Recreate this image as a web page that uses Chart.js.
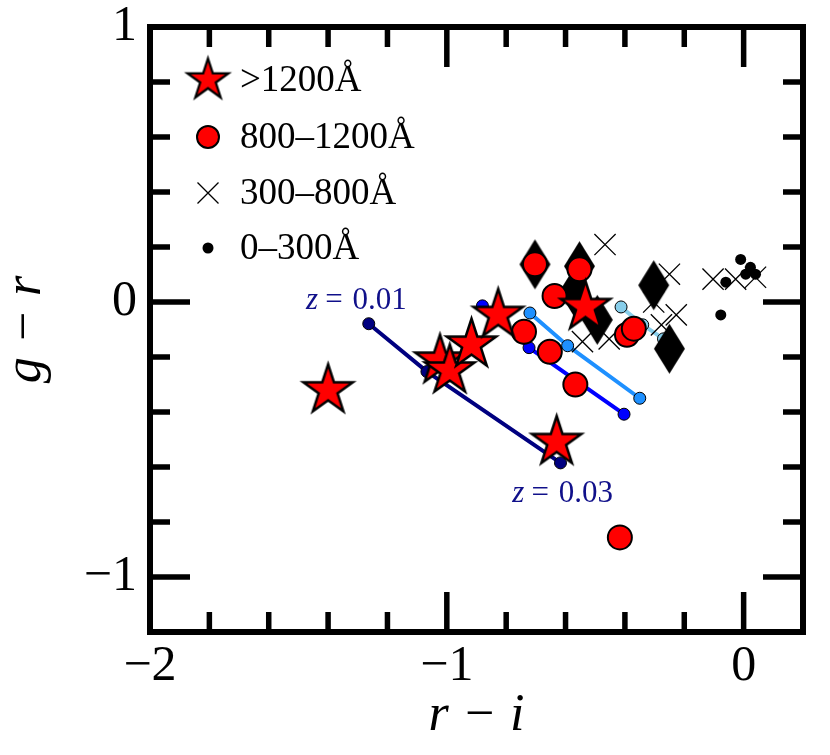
<!DOCTYPE html>
<html>
<head>
<meta charset="utf-8">
<script src="https://cdn.jsdelivr.net/npm/chart.js@4.4.1/dist/chart.umd.min.js"></script>
<style>
html,body{margin:0;padding:0;background:#ffffff;}
#wrap{width:830px;height:755px;position:relative;}
</style>
</head>
<body>
<div id="wrap"><canvas id="c" width="830" height="755"></canvas></div>
<script>
// ---------------- data ----------------
const legendLabels = ['>1200Å', '800–1200Å', '300–800Å', '0–300Å'];

// >1200 Å (stars)
const starX = [-1.40, -1.023, -0.99, -0.917, -0.827, -0.533, -0.63];
const starY = [-0.321, -0.213, -0.249, -0.155, -0.047, -0.018, -0.509];

// 800–1200 Å (red circles)
const circX = [-0.703, -0.553, -0.637, -0.74, -0.653, -0.567, -0.393, -0.37, -0.417];
const circY = [0.137, 0.119, 0.022, -0.108, -0.181, -0.300, -0.119, -0.097, -0.856];

// 300–800 Å (crosses)
const crossX = [-0.467, -0.25, -0.227, -0.543, -0.453, -0.303, -0.277, -0.103, -0.027, 0.04];
const crossY = [0.209, 0.101, -0.047, -0.144, -0.134, 0.0, -0.083, 0.083, 0.083, 0.09];

// 0–300 Å (small dots)
const dotX = [-0.01, 0.023, 0.007, 0.04, -0.06, -0.077];
const dotY = [0.155, 0.126, 0.101, 0.101, 0.072, -0.047];

// black diamonds (not in legend)
const diamX = [-0.703, -0.553, -0.57, -0.493, -0.303, -0.25];
const diamY = [0.137, 0.130, 0.036, -0.065, 0.061, -0.17];

// redshift tracks z = 0.01 -> 0.03
const trackNavyX = [-1.263, -1.067, -0.617];
const trackNavyY = [-0.079, -0.253, -0.585];
const trackBlueX = [-0.88, -0.723, -0.403];
const trackBlueY = [-0.014, -0.166, -0.408];
const trackDodgerX = [-0.72, -0.593, -0.35];
const trackDodgerY = [-0.04, -0.159, -0.35];
const trackSkyX = [-0.413, -0.34, -0.27];
const trackSkyY = [-0.018, -0.083, -0.134];

// z annotations (data coordinates of text centre / baseline)
const zLabelText = ['0.01', '0.03'];
const zLabelX = [-1.305, -0.61];
const zLabelY = [-0.025, -0.727];

// axes
const xMajorTicks = [-2, -1, 0];
const yMajorTicks = [-1, 0, 1];
const xRange = [-2, 0.2];
const yRange = [-1.2, 1];

// ---------------- helpers ----------------
const pts = (xs, ys) => xs.map((x, i) => ({x: x, y: ys[i]}));
const SERIF = "'Liberation Serif', 'DejaVu Serif', serif";
const fmt = v => (v < 0 ? '\u2212' : '') + Math.abs(Math.round(v));
const isMajor = (v, list) => list.some(m => Math.abs(m - v) < 1e-6);

function makeStar(R, lw) {
  const s = Math.ceil(2 * R + 5 * lw + 4);
  const c = document.createElement('canvas');
  c.width = s; c.height = s;
  const g = c.getContext('2d');
  const cx = s / 2, cy = s / 2;
  g.beginPath();
  for (let i = 0; i < 10; i++) {
    const r = (i % 2) ? R * 0.381966 : R;
    const a = -Math.PI / 2 + i * Math.PI / 5;
    g.lineTo(cx + r * Math.cos(a), cy + r * Math.sin(a));
  }
  g.closePath();
  g.fillStyle = '#ff0000';
  g.fill();
  g.lineWidth = lw;
  g.lineJoin = 'miter';
  g.strokeStyle = '#000000';
  g.stroke();
  return c;
}
function makeDiamond(w, h) {
  const c = document.createElement('canvas');
  c.width = w + 2; c.height = h + 2;
  const g = c.getContext('2d');
  const cx = c.width / 2, cy = c.height / 2;
  g.beginPath();
  g.moveTo(cx, cy - h / 2);
  g.lineTo(cx + w / 2, cy);
  g.lineTo(cx, cy + h / 2);
  g.lineTo(cx - w / 2, cy);
  g.closePath();
  g.fillStyle = '#000000';
  g.fill();
  return c;
}
const starImg = makeStar(26, 2.5);
const starLegendImg = makeStar(21.5, 2.3);
const diamImg = makeDiamond(31, 50);

function track(xs, ys, color, order) {
  return {
    data: pts(xs, ys), showLine: true, borderColor: color, borderWidth: 4,
    pointRadius: 6, pointBackgroundColor: color, pointBorderColor: '#000000',
    pointBorderWidth: 1, order: order
  };
}

// ---------------- plugins ----------------
const framePlugin = {
  id: 'frame',
  afterDraw(chart) {
    const {ctx, chartArea: a, scales} = chart;
    ctx.save();
    ctx.strokeStyle = '#000';
    ctx.lineCap = 'butt';
    ctx.lineWidth = 5.5;
    scales.x.ticks.forEach(t => {
      const px = scales.x.getPixelForValue(t.value);
      const len = isMajor(t.value, xMajorTicks) ? 40 : 20;
      ctx.beginPath();
      ctx.moveTo(px, a.bottom); ctx.lineTo(px, a.bottom - len);
      ctx.moveTo(px, a.top); ctx.lineTo(px, a.top + len);
      ctx.stroke();
    });
    scales.y.ticks.forEach(t => {
      const py = scales.y.getPixelForValue(t.value);
      const len = isMajor(t.value, yMajorTicks) ? 40 : 20;
      ctx.beginPath();
      ctx.moveTo(a.left, py); ctx.lineTo(a.left + len, py);
      ctx.moveTo(a.right, py); ctx.lineTo(a.right - len, py);
      ctx.stroke();
    });
    ctx.lineWidth = 6;
    ctx.lineJoin = 'miter';
    ctx.strokeRect(a.left, a.top, a.right - a.left, a.bottom - a.top);
    ctx.restore();
  }
};

const zLabelPlugin = {
  id: 'zlabels',
  afterDatasetsDraw(chart) {
    const {ctx, scales} = chart;
    ctx.save();
    ctx.fillStyle = '#10108a';
    ctx.textBaseline = 'alphabetic';
    zLabelText.forEach((txt, i) => {
      const cx = scales.x.getPixelForValue(zLabelX[i]);
      const by = scales.y.getPixelForValue(zLabelY[i]);
      ctx.font = 'italic 31px ' + SERIF;
      const wz = ctx.measureText('z').width;
      ctx.font = '31px ' + SERIF;
      const rest = '\u2009= ' + txt;
      const wr = ctx.measureText(rest).width + 3;
      const x0 = cx - (wz + wr) / 2;
      ctx.font = 'italic 31px ' + SERIF;
      ctx.fillText('z', x0, by);
      ctx.font = '31px ' + SERIF;
      ctx.fillText('\u2009=', x0 + wz + 1, by);
      const weq = ctx.measureText('\u2009= ').width;
      ctx.fillText(txt, x0 + wz + weq + 3, by);
    });
    ctx.restore();
  }
};

const legendPlugin = {
  id: 'customLegend',
  afterDraw(chart) {
    const {ctx, chartArea: a} = chart;
    const mx = a.left + 58, tx = a.left + 90;
    const rows = [a.top + 53, a.top + 110, a.top + 166, a.top + 221];
    ctx.save();
    // star
    ctx.drawImage(starLegendImg, mx - starLegendImg.width / 2, rows[0] - starLegendImg.height / 2);
    // circle
    ctx.beginPath(); ctx.arc(mx, rows[1], 11, 0, Math.PI * 2);
    ctx.fillStyle = '#ff0000'; ctx.fill();
    ctx.lineWidth = 2; ctx.strokeStyle = '#000'; ctx.stroke();
    // cross
    ctx.beginPath();
    ctx.moveTo(mx - 10.5, rows[2] - 10.5); ctx.lineTo(mx + 10.5, rows[2] + 10.5);
    ctx.moveTo(mx - 10.5, rows[2] + 10.5); ctx.lineTo(mx + 10.5, rows[2] - 10.5);
    ctx.lineWidth = 1.3; ctx.stroke();
    // dot
    ctx.beginPath(); ctx.arc(mx, rows[3], 5.5, 0, Math.PI * 2);
    ctx.fillStyle = '#000'; ctx.fill();
    // text
    ctx.fillStyle = '#000';
    ctx.font = '37px ' + SERIF;
    ctx.textBaseline = 'middle';
    legendLabels.forEach((t, i) => ctx.fillText(t, tx, rows[i] + 1));
    ctx.restore();
  }
};

// ---------------- chart ----------------
new Chart(document.getElementById('c'), {
  type: 'scatter',
  data: {
    datasets: [
      {label: legendLabels[0], data: pts(starX, starY), pointStyle: starImg, pointRadius: 26, order: 0},
      {label: legendLabels[1], data: pts(circX, circY), pointStyle: 'circle', pointRadius: 12,
        pointBackgroundColor: '#ff0000', pointBorderColor: '#000000', pointBorderWidth: 2, order: 1},
      {label: legendLabels[3], data: pts(dotX, dotY), pointStyle: 'circle', pointRadius: 5.5,
        pointBackgroundColor: '#000000', pointBorderColor: '#000000', pointBorderWidth: 0, order: 2},
      {label: legendLabels[2], data: pts(crossX, crossY), pointStyle: 'crossRot', pointRadius: 15,
        pointBorderColor: '#000000', pointBorderWidth: 1.3, order: 3},
      {label: 'diamonds', data: pts(diamX, diamY), pointStyle: diamImg, pointRadius: 25, order: 4},
      track(trackSkyX, trackSkyY, '#87ceeb', 5),
      track(trackDodgerX, trackDodgerY, '#1e90ff', 6),
      track(trackBlueX, trackBlueY, '#0000ff', 7),
      track(trackNavyX, trackNavyY, '#000080', 8)
    ]
  },
  options: {
    responsive: false,
    animation: false,
    layout: {padding: {top: 23, right: 22, left: 0, bottom: 0}},
    plugins: {legend: {display: false}, tooltip: {enabled: false}},
    scales: {
      x: {
        type: 'linear', min: xRange[0], max: xRange[1],
        grid: {display: false}, border: {display: false},
        ticks: {
          stepSize: 0.2, autoSkip: false, maxRotation: 0, padding: -3,
          color: '#000', font: {family: SERIF, size: 50},
          callback: v => isMajor(v, xMajorTicks) ? fmt(v) : ''
        },
        title: {display: true, text: 'r \u2212 i', color: '#000',
          font: {family: SERIF, size: 52, style: 'italic', lineHeight: 1}, padding: {top: 0, bottom: 13}},
        afterFit: s => { s.height = 123; s.paddingLeft = 0; s.paddingRight = 0; }
      },
      y: {
        type: 'linear', min: yRange[0], max: yRange[1],
        grid: {display: false}, border: {display: false},
        ticks: {
          stepSize: 0.2, autoSkip: false, padding: 5,
          color: '#000', font: {family: SERIF, size: 50},
          callback: v => isMajor(v, yMajorTicks) ? fmt(v) : ''
        },
        title: {display: true, text: 'g \u2212 r', color: '#000',
          font: {family: SERIF, size: 52, style: 'italic', lineHeight: 1}, padding: {top: 0, bottom: 0}},
        afterFit: s => { s.width = 150; s.paddingTop = 0; s.paddingBottom = 0; }
      }
    }
  },
  plugins: [zLabelPlugin, framePlugin, legendPlugin]
});
</script>
</body>
</html>
